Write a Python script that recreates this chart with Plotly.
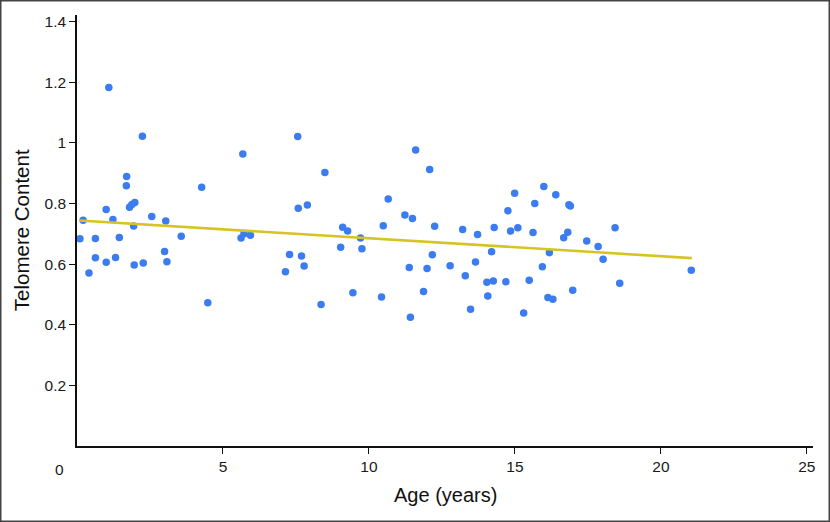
import plotly.graph_objects as go

# Data
age_years = [1.09, 2.24, 5.68, 1.70, 1.69, 4.27, 1.98, 1.88, 1.80, 1.00, 0.21, 1.23, 2.56, 3.04, 1.94,
             0.10, 0.63, 1.45, 3.57, 5.62, 5.72, 5.94, 3.00, 0.63, 1.32, 1.00, 2.27, 1.96, 3.08, 0.41, 4.48,
             7.56, 8.49, 10.66, 7.58, 7.89, 9.10, 9.27, 10.49, 9.71, 9.03, 9.76, 7.28, 7.69, 7.78, 7.14,
             9.45, 10.43, 8.36,
             11.60, 12.08, 11.23, 11.49, 12.25, 13.21, 13.72, 14.29, 14.99, 14.76, 14.85, 15.10, 15.99,
             16.40, 15.68, 16.85, 16.90, 15.62, 16.81, 16.67, 12.17, 14.20, 16.18, 11.38, 11.99, 12.78,
             13.65, 15.94, 13.30, 14.04, 14.26, 14.69, 15.49, 11.87, 14.07, 16.13, 16.30, 16.98, 11.42,
             13.48, 15.30,
             18.43, 17.46, 17.85, 18.02, 18.59, 21.04]
telomere_content = [1.183, 1.022, 0.963, 0.889, 0.859, 0.854, 0.803, 0.797, 0.788, 0.780, 0.745, 0.747, 0.757,
                    0.742, 0.726, 0.684, 0.685, 0.688, 0.692, 0.686, 0.700, 0.695, 0.642, 0.621, 0.622, 0.606,
                    0.604, 0.597, 0.608, 0.571, 0.473,
                    1.021, 0.902, 0.815, 0.784, 0.795, 0.722, 0.709, 0.727, 0.686, 0.656, 0.651, 0.632, 0.627,
                    0.594, 0.575, 0.506, 0.492, 0.467,
                    0.977, 0.912, 0.762, 0.751, 0.725, 0.714, 0.698, 0.721, 0.834, 0.776, 0.709, 0.720, 0.856,
                    0.829, 0.800, 0.796, 0.792, 0.704, 0.705, 0.687, 0.631, 0.641, 0.638, 0.589, 0.586, 0.595,
                    0.607, 0.591, 0.562, 0.540, 0.544, 0.542, 0.547, 0.510, 0.495, 0.490, 0.484, 0.514, 0.425,
                    0.451, 0.439,
                    0.720, 0.676, 0.658, 0.616, 0.537, 0.580]

fit_age = [0.08, 21.06]
fit_telomere = [0.744, 0.620]

x_tick_vals = [5, 10, 15, 20, 25]
x_tick_text = ["5", "10", "15", "20", "25"]
y_tick_vals = [0.2, 0.4, 0.6, 0.8, 1.0, 1.2, 1.4]
y_tick_text = ["0.2", "0.4", "0.6", "0.8", "1", "1.2", "1.4"]

FONT = "Liberation Sans, Arial, sans-serif"

fig = go.Figure()
fig.add_trace(go.Scatter(
    x=age_years, y=telomere_content, mode="markers",
    marker=dict(color="#3b7cf0", size=7.5, line=dict(width=0)),
    showlegend=False, hoverinfo="x+y"))
fig.add_trace(go.Scatter(
    x=fit_age, y=fit_telomere, mode="lines",
    line=dict(color="#d6c423", width=2.6),
    showlegend=False, hoverinfo="skip"))

ML, MR, MT, MB = 77, 17, 15, 76
W, H = 830, 522
pw, ph = W - ML - MR, H - MT - MB

fig.update_layout(
    width=W, height=H,
    margin=dict(l=ML, r=MR, t=MT, b=MB),
    paper_bgcolor="white", plot_bgcolor="white",
    font=dict(family=FONT, color="#1a1a1a", size=15),
    xaxis=dict(range=[0, 25.21], tickvals=x_tick_vals, ticktext=x_tick_text,
               showline=True, linecolor="#111", linewidth=1.6, mirror=False,
               ticks="outside", ticklen=6, tickcolor="#111", tickwidth=1.2,
               showgrid=False, zeroline=False, tickfont=dict(size=15.5, family=FONT)),
    yaxis=dict(range=[0, 1.422], tickvals=y_tick_vals, ticktext=y_tick_text,
               showline=True, linecolor="#111", linewidth=1.6,
               ticks="outside", ticklen=6, tickcolor="#111", tickwidth=1.2,
               showgrid=False, zeroline=False, tickfont=dict(size=15.5, family=FONT)),
    annotations=[
        dict(text="0", xref="x", x=0, yref="paper", y=0, xshift=-18, yshift=-23,
             showarrow=False, xanchor="center", yanchor="middle", font=dict(size=15.5, family=FONT)),
        dict(text="Telomere Content", xref="paper", x=(21.7 - ML) / pw, yref="paper", y=0.5,
             textangle=-90, showarrow=False, xanchor="center", yanchor="middle",
             font=dict(size=20.5, family=FONT, color="#111")),
        dict(text="Age (years)", xref="paper", x=0.5, yref="paper", y=(H - MB - 495) / ph,
             showarrow=False, xanchor="center", yanchor="middle",
             font=dict(size=20, family=FONT, color="#111")),
    ],
    shapes=[dict(type="rect", xref="paper", yref="paper",
                 x0=(0.75 - ML) / pw, x1=(W - 0.75 - ML) / pw,
                 y0=(H - MB - (H - 0.75)) / ph, y1=(H - MB - 0.75) / ph,
                 line=dict(color="#444", width=1.5), fillcolor="rgba(0,0,0,0)", layer="above")],
)

fig.write_html("out.html", config={"displayModeBar": False},
               post_script="document.body.style.margin='0';document.body.style.overflow='hidden';")
